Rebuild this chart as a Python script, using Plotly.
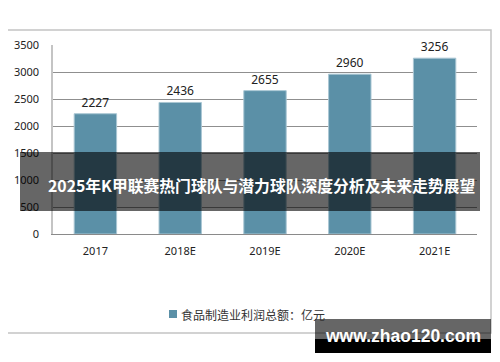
import plotly.graph_objects as go

categories = ["2017", "2018E", "2019E", "2020E", "2021E"]
profits = [2227, 2436, 2655, 2960, 3256]
y_ticks = [0, 500, 1000, 1500, 2000, 2500, 3000, 3500]
series_name = "食品制造业利润总额：亿元"
banner_title = "2025年K甲联赛热门球队与潜力球队深度分析及未来走势展望"
watermark = "www.zhao120.com"

# The page body has a default 8px margin, so lay out the figure 8px up/left.
OFF = 8
W, H = 500, 362
L, R, T, B = 53 - OFF, 477 - OFF, 45 - OFF, 234 - OFF
BAR_COLOR = "#5b90a7"

def px(x):
    return (x - OFF - L) / (R - L)

def py(y):
    return (B - (y - OFF)) / (B - T)

fig = go.Figure()
fig.add_trace(go.Bar(
    x=categories, y=profits, name=series_name,
    marker=dict(color=BAR_COLOR, line=dict(color="#a9c6d3", width=1)),
    width=0.5,
    text=[str(v) for v in profits], textposition="outside",
    textfont=dict(size=12, color="#222", family="Noto Sans, sans-serif"),
    cliponaxis=False, showlegend=False,
))

font_cjk = "Noto Sans CJK SC, sans-serif"
shapes = [
    # outer chart frame
    dict(type="rect", xref="paper", yref="paper", x0=px(6), x1=px(491), y0=py(333), y1=py(30),
         line=dict(color="#c4c4c4", width=1.5), fillcolor="rgba(0,0,0,0)", layer="below"),
    # legend marker
    dict(type="rect", xref="paper", yref="paper", x0=px(169), x1=px(177), y0=py(318), y1=py(310),
         line=dict(width=0), fillcolor=BAR_COLOR, layer="above"),
    # banner
    dict(type="rect", xref="paper", yref="paper", x0=px(20), x1=px(480), y0=py(211), y1=py(152),
         line=dict(width=0), fillcolor="rgba(0,0,0,0.6)", layer="above"),
    # watermark boxes
    dict(type="rect", xref="paper", yref="paper", x0=px(315), x1=px(491), y0=py(339), y1=py(319),
         line=dict(width=0), fillcolor="rgba(0,0,0,0.6)", layer="above"),
    dict(type="rect", xref="paper", yref="paper", x0=px(315), x1=px(491), y0=py(353), y1=py(339),
         line=dict(width=0), fillcolor="#000000", layer="above"),
]

annotations = [
    dict(text=series_name, xref="paper", yref="paper", x=px(179), y=py(314),
         xanchor="left", yanchor="middle", showarrow=False,
         font=dict(size=12, color="#333", family=font_cjk)),
    dict(text="<b>" + banner_title + "</b>", xref="paper", yref="paper", x=px(261), y=py(185),
         xanchor="center", yanchor="middle", showarrow=False,
         font=dict(size=15.8, color="white", family=font_cjk)),
    dict(text="<b>" + watermark + "</b>", xref="paper", yref="paper", x=px(403), y=py(336),
         xanchor="center", yanchor="middle", showarrow=False,
         font=dict(size=17.5, color="white", family="Liberation Sans, Arial, sans-serif")),
]

fig.update_layout(
    width=W, height=H,
    margin=dict(l=L, r=W - R, t=T, b=H - B, pad=0, autoexpand=False),
    paper_bgcolor="white", plot_bgcolor="white",
    showlegend=False,
    bargap=0.5,
    shapes=shapes,
    annotations=annotations,
    xaxis=dict(showgrid=False, showline=True, linecolor="#8a8a8a", linewidth=1,
               ticks="", tickfont=dict(size=11, color="#222", family="Noto Sans, sans-serif"),
               ticklabelstandoff=7, automargin=False),
    yaxis=dict(range=[0, 3500], tickvals=y_ticks, showgrid=True, gridcolor="#8f8f8f", gridwidth=1,
               showline=True, linecolor="#c4c4c4", linewidth=1.5, zeroline=False,
               ticks="", tickfont=dict(size=11, color="#222", family="Noto Sans, sans-serif"),
               ticklabelstandoff=10, automargin=False),
)

fig.write_html("out.html")
